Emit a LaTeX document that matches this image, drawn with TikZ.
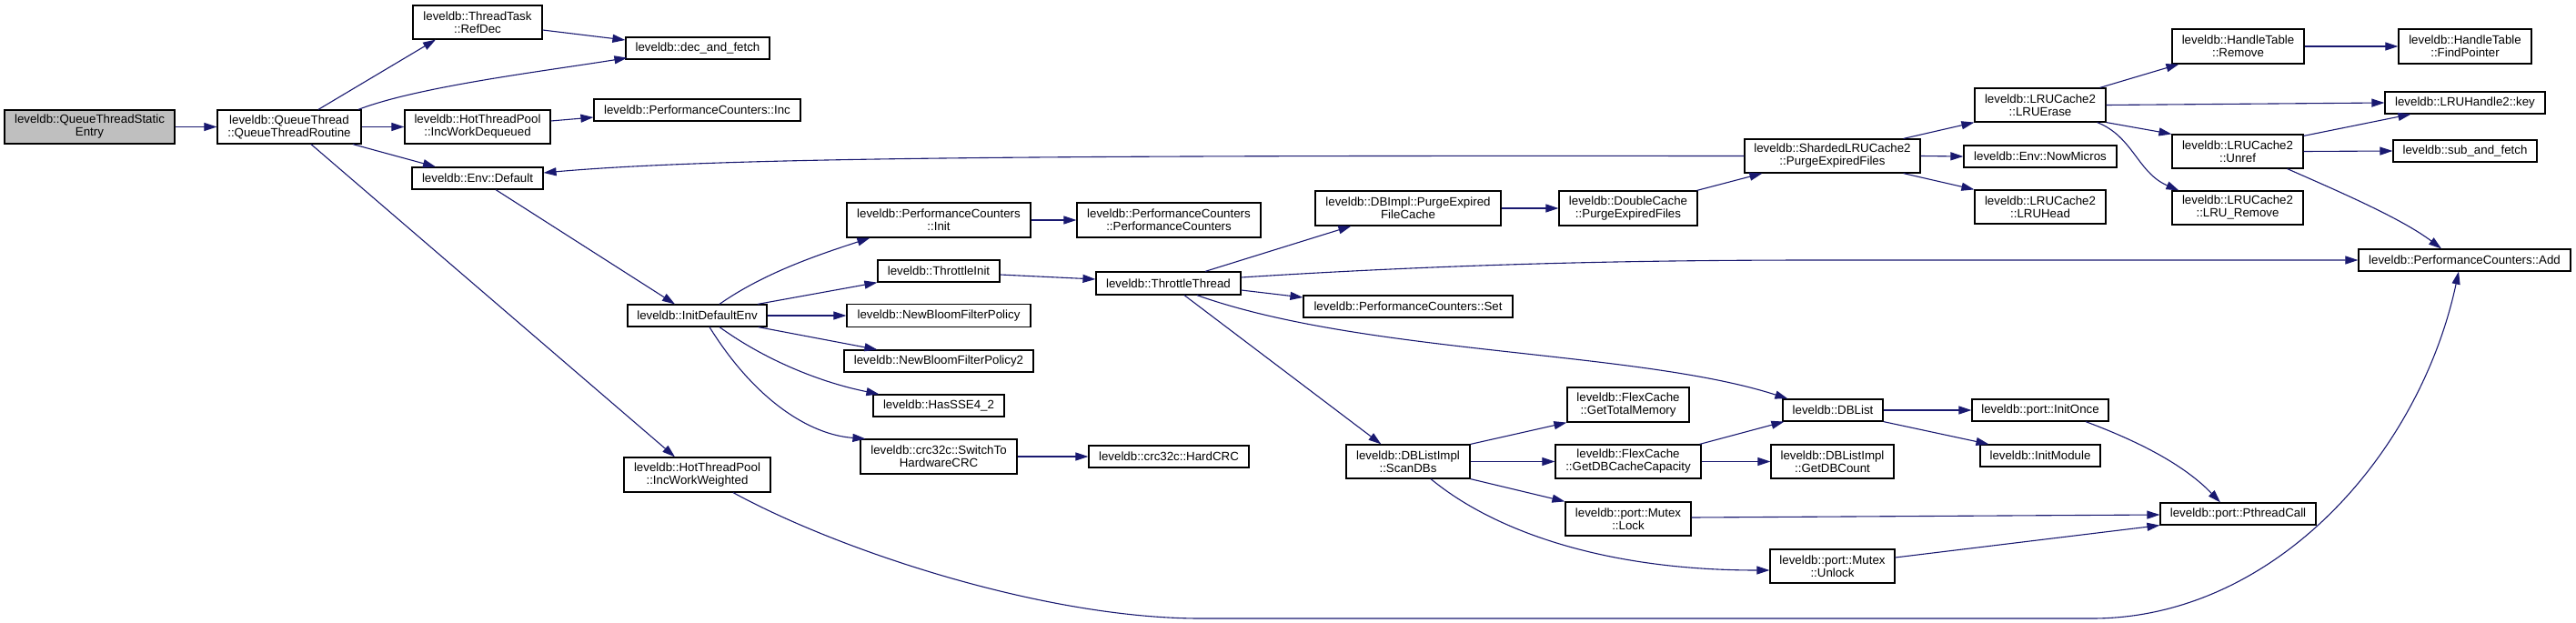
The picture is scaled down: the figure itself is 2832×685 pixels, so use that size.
\documentclass[tikz,border=0pt]{standalone}
\usepackage{fontspec}
\setmainfont{Liberation Sans}
\usetikzlibrary{arrows.meta,calc}
\definecolor{edgeblue}{HTML}{191970}
\definecolor{rootgray}{HTML}{BFBFBF}
\newcommand\gvfont{\fontsize{13.3}{14}\selectfont}
\begin{document}
\begin{tikzpicture}[x=1pt,y=-1pt,
  nbox/.style={draw=black, line width=1.2pt, fill=white, inner sep=0pt, align=center, font=\gvfont},
  rootbox/.style={nbox, fill=rootgray},
  edge/.style={draw=edgeblue, line width=1.1pt, -{Triangle[length=14pt,width=9pt]}}]
\useasboundingbox (0,0) rectangle (2832,685);
% nodes
\node[rootbox, minimum width=187pt, minimum height=37pt] (root) at (98.5,139.5) {leveldb::QueueThreadStatic\\Entry};
\node[nbox, minimum width=158pt, minimum height=37pt] (routine) at (318,139.5) {leveldb::QueueThread\\::QueueThreadRoutine};
\node[nbox, minimum width=142pt, minimum height=37pt] (refdec) at (525,24.5) {leveldb::ThreadTask\\::RefDec};
\node[nbox, minimum width=158pt, minimum height=24pt] (decfetch) at (767,53) {leveldb::dec\_and\_fetch};
\node[nbox, minimum width=160pt, minimum height=37pt] (incdeq) at (525,139.5) {leveldb::HotThreadPool\\::IncWorkDequeued};
\node[nbox, minimum width=227pt, minimum height=24pt] (pcinc) at (766.5,121) {leveldb::PerformanceCounters::Inc};
\node[nbox, minimum width=144pt, minimum height=24pt] (envdef) at (525,196) {leveldb::Env::Default};
\node[nbox, minimum width=153pt, minimum height=24pt] (initenv) at (766.5,347) {leveldb::InitDefaultEnv};
\node[nbox, minimum width=161pt, minimum height=38pt] (incweight) at (766.5,522) {leveldb::HotThreadPool\\::IncWorkWeighted};
\node[nbox, minimum width=202pt, minimum height=38pt] (pcinit) at (1032,242) {leveldb::PerformanceCounters\\::Init};
\node[nbox, minimum width=202pt, minimum height=38pt] (pcpc) at (1285,242) {leveldb::PerformanceCounters\\::PerformanceCounters};
\node[nbox, minimum width=134pt, minimum height=24pt] (thrinit) at (1032,298) {leveldb::ThrottleInit};
\node[nbox, minimum width=202pt, minimum height=25pt] (bloom) at (1032,347) {leveldb::NewBloomFilterPolicy};
\node[nbox, minimum width=208pt, minimum height=24pt] (bloom2) at (1032,397) {leveldb::NewBloomFilterPolicy2};
\node[nbox, minimum width=144pt, minimum height=24pt] (sse) at (1032,446) {leveldb::HasSSE4\_2};
\node[nbox, minimum width=172pt, minimum height=38pt] (switchcrc) at (1032,502) {leveldb::crc32c::SwitchTo\\HardwareCRC};
\node[nbox, minimum width=176pt, minimum height=24pt] (hardcrc) at (1285,502) {leveldb::crc32c::HardCRC};
\node[nbox, minimum width=159pt, minimum height=25pt] (thrthread) at (1284.5,311.5) {leveldb::ThrottleThread};
\node[nbox, minimum width=204pt, minimum height=38pt] (purgefc) at (1548,229) {leveldb::DBImpl::PurgeExpired\\FileCache};
\node[nbox, minimum width=152pt, minimum height=38pt] (dcpurge) at (1790,229) {leveldb::DoubleCache\\::PurgeExpiredFiles};
\node[nbox, minimum width=230pt, minimum height=24pt] (pcset) at (1548,337) {leveldb::PerformanceCounters::Set};
\node[nbox, minimum width=136pt, minimum height=37pt] (scandbs) at (1548,507.5) {leveldb::DBListImpl\\::ScanDBs};
\node[nbox, minimum width=134pt, minimum height=38pt] (totalmem) at (1790,445) {leveldb::FlexCache\\::GetTotalMemory};
\node[nbox, minimum width=160pt, minimum height=37pt] (dbcap) at (1790,507.5) {leveldb::FlexCache\\::GetDBCacheCapacity};
\node[nbox, minimum width=138pt, minimum height=37pt] (lock) at (1790,570.5) {leveldb::port::Mutex\\::Lock};
\node[nbox, minimum width=110pt, minimum height=24pt] (dblist) at (2015,451) {leveldb::DBList};
\node[nbox, minimum width=135pt, minimum height=37pt] (dbcount) at (2014.5,507.5) {leveldb::DBListImpl\\::GetDBCount};
\node[nbox, minimum width=137pt, minimum height=37pt] (unlock) at (2014.5,622.5) {leveldb::port::Mutex\\::Unlock};
\node[nbox, minimum width=193pt, minimum height=37pt] (sharded) at (2014.5,171.5) {leveldb::ShardedLRUCache2\\::PurgeExpiredFiles};
\node[nbox, minimum width=144pt, minimum height=37pt] (lruerase) at (2243,115.5) {leveldb::LRUCache2\\::LRUErase};
\node[nbox, minimum width=168pt, minimum height=24pt] (nowmicros) at (2243,172) {leveldb::Env::NowMicros};
\node[nbox, minimum width=144pt, minimum height=37pt] (lruhead) at (2243,227.5) {leveldb::LRUCache2\\::LRUHead};
\node[nbox, minimum width=150pt, minimum height=24pt] (initonce) at (2243,451) {leveldb::port::InitOnce};
\node[nbox, minimum width=132pt, minimum height=24pt] (initmodule) at (2243,501) {leveldb::InitModule};
\node[nbox, minimum width=171pt, minimum height=24pt] (pthread) at (2460.5,565) {leveldb::port::PthreadCall};
\node[nbox, minimum width=145pt, minimum height=38pt] (htremove) at (2460.5,51) {leveldb::HandleTable\\::Remove};
\node[nbox, minimum width=144pt, minimum height=37pt] (unref) at (2460,166.5) {leveldb::LRUCache2\\::Unref};
\node[nbox, minimum width=144pt, minimum height=37pt] (lruremove) at (2460,228.5) {leveldb::LRUCache2\\::LRU\_Remove};
\node[nbox, minimum width=146pt, minimum height=38pt] (findptr) at (2710,51) {leveldb::HandleTable\\::FindPointer};
\node[nbox, minimum width=176pt, minimum height=24pt] (key) at (2710,113) {leveldb::LRUHandle2::key};
\node[nbox, minimum width=158pt, minimum height=24pt] (subfetch) at (2710,166) {leveldb::sub\_and\_fetch};
\node[nbox, minimum width=233pt, minimum height=24pt] (pcadd) at (2709.5,286) {leveldb::PerformanceCounters::Add};
% edges
\draw[edge] (root.east) -- (routine.west);
\draw[edge] ($(routine.north)+(32,0)$) -- ($(refdec.south)+(-46,0)$);
\draw[edge] ($(refdec.east)+(0,8.5)$) -- ($(decfetch.west)+(0,-9)$);
\draw[edge] ($(routine.north)+(76,0)$) .. controls (460,95) and (600,78) .. ($(decfetch.south west)+(2,-2)$);
\draw[edge] (routine.east) -- (incdeq.west);
\draw[edge] ($(incdeq.east)+(0,-6.5)$) -- ($(pcinc.west)+(0,8)$);
\draw[edge] ($(routine.south)+(70,0)$) -- ($(envdef.north)+(-46,0)$);
\draw[edge] ($(routine.south)+(24,0)$) -- ($(incweight.north)+(-24.5,0)$);
\draw[edge] ($(envdef.south)+(20,0)$) -- ($(initenv.north)+(-24.5,0)$);
\draw[edge] (sharded.west) .. controls (1200,171) and (800,172) .. ($(envdef.east)+(0,-6)$);
\draw[edge] ($(incweight.south)+(39.5,0)$) .. controls (926,607) and (1150,680) .. (1320,680) -- (2300,680) .. controls (2500,680) and (2660,500) .. ($(pcadd.south)+(-6.5,0)$);
\draw[edge] ($(initenv.north)+(24.5,0)$) .. controls (840,300) and (900,280) .. ($(pcinit.south west)+(26,0)$);
\draw[edge] ($(initenv.north)+(66.5,0)$) -- (thrinit.south west);
\draw[edge] (initenv.east) -- (bloom.west);
\draw[edge] ($(initenv.south east)+(-10,0)$) -- ($(bloom2.north west)+(37,0)$);
\draw[edge] ($(initenv.south)+(24.5,0)$) .. controls (840,395) and (900,420) .. ($(sse.north west)+(7,0)$);
\draw[edge] ($(initenv.south)+(13.5,0)$) .. controls (830,440) and (890,478) .. ($(switchcrc.north west)+(6,0)$);
\draw[edge] (pcinit.east) -- (pcpc.west);
\draw[edge] ($(thrinit.east)+(0,4)$) -- ($(thrthread.west)+(0,-4.5)$);
\draw[edge] (switchcrc.east) -- (hardcrc.west);
\draw[edge] ($(thrthread.north)+(40.5,0)$) -- ($(purgefc.south west)+(40,0)$);
\draw[edge] ($(thrthread.east)+(0,-6.5)$) .. controls (1600,290) and (1800,286) .. (2000,286) -- (pcadd.west);
\draw[edge] ($(thrthread.east)+(0,7.5)$) -- ($(pcset.west)+(0,-10)$);
\draw[edge] ($(thrthread.south)+(31.5,0)$) .. controls (1500,390) and (1800,385) .. ($(dblist.north west)+(6,0)$);
\draw[edge] ($(thrthread.south)+(17.5,0)$) -- ($(scandbs.north west)+(39,0)$);
\draw[edge] (purgefc.east) -- (dcpurge.west);
\draw[edge] ($(dcpurge.north east)+(-1,0)$) -- ($(sharded.south west)+(20,0)$);
\draw[edge] (scandbs.north east) -- (totalmem.south west);
\draw[edge] (scandbs.east) -- (dbcap.west);
\draw[edge] (scandbs.south east) -- (lock.north west);
\draw[edge] ($(scandbs.south)+(25,0)$) .. controls (1640,582) and (1760,627) .. ($(unlock.west)+(0,4.5)$);
\draw[edge] ($(dbcap.north east)+(-2,0)$) -- ($(dblist.south west)+(2,0)$);
\draw[edge] (dbcap.east) -- (dbcount.west);
\draw[edge] ($(lock.east)+(0,-1.5)$) -- ($(pthread.west)+(0,1)$);
\draw[edge] ($(unlock.east)+(0,-9.5)$) -- (pthread.south west);
\draw[edge] (dblist.east) -- (initonce.west);
\draw[edge] (dblist.south east) -- ($(initmodule.north west)+(10,0)$);
\draw[edge] ($(initonce.south)+(50,0)$) .. controls (2350,485) and (2400,510) .. ($(pthread.north)+(-19.5,0)$);
\draw[edge] ($(sharded.north east)+(-19,0)$) -- (lruerase.south west);
\draw[edge] (sharded.east) -- (nowmicros.west);
\draw[edge] ($(sharded.south east)+(-19,0)$) -- (lruhead.north west);
\draw[edge] ($(lruerase.north east)+(-7,0)$) -- ($(htremove.south west)+(8,0)$);
\draw[edge] (lruerase.east) -- (key.west);
\draw[edge] (lruerase.south east) -- (unref.north west);
\draw[edge] ($(lruerase.south east)+(-10,0)$) .. controls (2345,150) and (2350,190) .. ($(lruremove.north west)+(8,0)$);
\draw[edge] (htremove.east) -- (findptr.west);
\draw[edge] ($(unref.north east)+(0,2)$) -- ($(key.south west)+(29,0)$);
\draw[edge] (unref.east) -- (subfetch.west);
\draw[edge] ($(unref.south east)+(-18,0)$) .. controls (2570,210) and (2640,240) .. ($(pcadd.north)+(-25.5,0)$);
\end{tikzpicture}
\end{document}
